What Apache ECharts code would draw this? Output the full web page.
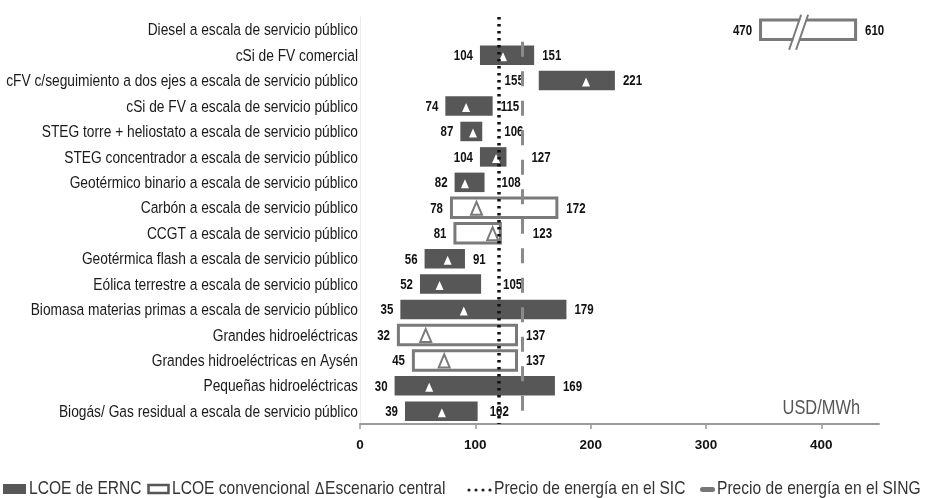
<!DOCTYPE html>
<html>
<head>
<meta charset="utf-8">
<script src="https://cdn.jsdelivr.net/npm/echarts@6/dist/echarts.min.js"></script>
<style>
html,body{margin:0;padding:0;background:#fff;}
#chart{width:929px;height:498px;}
</style>
</head>
<body>
<div id="chart"></div>
<script>
// ---------------- DATA ----------------
const categories = [
  'Diesel a escala de servicio público',
  'cSi de FV comercial',
  'cFV c/seguimiento a dos ejes a escala de servicio público',
  'cSi de FV a escala de servicio público',
  'STEG torre + heliostato a escala de servicio público',
  'STEG concentrador a escala de servicio público',
  'Geotérmico binario a escala de servicio público',
  'Carbón a escala de servicio público',
  'CCGT a escala de servicio público',
  'Geotérmica flash a escala de servicio público',
  'Eólica terrestre a escala de servicio público',
  'Biomasa materias primas a escala de servicio público',
  'Grandes hidroeléctricas',
  'Grandes hidroeléctricas en Aysén',
  'Pequeñas hidroeléctricas',
  'Biogás/ Gas residual a escala de servicio público'
];
const lowValues     = [470, 104, 155, 74, 87, 104, 82, 78, 81, 56, 52, 35, 32, 45, 30, 39];
const highValues    = [610, 151, 221, 115, 106, 127, 108, 172, 123, 91, 105, 179, 137, 137, 169, 102];
const centralValues = [null, 124, 196, 92, 98, 118, 91, 101, 115, 76, 69, 90, 57, 73, 60, 71];
// 'ernc' = LCOE de ERNC (filled), 'conv' = LCOE convencional (hollow)
const kinds = ['conv','ernc','ernc','ernc','ernc','ernc','ernc','conv','conv','ernc','ernc','ernc','conv','conv','ernc','ernc'];
const sicPrice = 120;
const singPrice = 141;
const xTickValues = [0, 100, 200, 300, 400];
const xMax = 450;
// Diesel bar (470–610) is drawn compressed with a break mark, between these axis positions
const brokenBarIndex = 0;
const brokenBarDraw = [346, 431];
const brokenBarBreakAt = 379;
const unitLabel = 'USD/MWh';
const legendLabels = ['LCOE de ERNC', 'LCOE convencional', 'Escenario central', 'Precio de energía en el SIC', 'Precio de energía en el SING'];

// ---------------- STYLE / LAYOUT ----------------
const SANS = '"Liberation Sans",Arial,sans-serif';
const NARROW_SCALE = 0.82;   // emulates a condensed (narrow) face
const FILL_DARK = '#575757';
const STROKE_GRAY = '#7a7a7a';
const LABEL_FONT = 'bold 14px ' + SANS;
const CAT_FONT = '16.8px ' + SANS;
const rightLabelShift = [0,0,0,0,14,17,9,0,23,0,14,0,0,0,0,4];
const leftLabelShift  = [0,0,8,0,0,0,0,0,0,0,0,0,0,0,0,0];

const barData = categories.map((c, i) => {
  const lo = i === brokenBarIndex ? brokenBarDraw[0] : lowValues[i];
  const hi = i === brokenBarIndex ? brokenBarDraw[1] : highValues[i];
  return [i, lo, hi, centralValues[i] == null ? '-' : centralValues[i]];
});

function narrowText(x, y, text, font, fill, align) {
  return {
    type: 'text', x: x, y: y, scaleX: NARROW_SCALE, scaleY: 1,
    style: { text: text, font: font, fill: fill, align: align, verticalAlign: 'middle' }
  };
}

function renderItem(params, api) {
  const i = params.dataIndex;
  const idx = api.value(0);
  const pLo = api.coord([api.value(1), idx]);
  const pHi = api.coord([api.value(2), idx]);
  const p0 = api.coord([0, idx]);
  const cy = pLo[1];
  const h = 19.5;
  const children = [];
  const conv = kinds[i] === 'conv';
  // category label (axis label drawn condensed)
  children.push(narrowText(p0[0] - 2, cy + 1, categories[i], CAT_FONT, '#1a1a1a', 'right'));
  if (conv) {
    children.push({
      type: 'rect',
      shape: { x: pLo[0] + 1.5, y: cy - h / 2, width: pHi[0] - pLo[0] - 3, height: h },
      style: { fill: '#fff', stroke: STROKE_GRAY, lineWidth: 3 }
    });
  } else {
    children.push({
      type: 'rect',
      shape: { x: pLo[0], y: cy - h / 2, width: pHi[0] - pLo[0], height: h },
      style: { fill: FILL_DARK }
    });
  }
  const c = centralValues[i];
  if (c != null) {
    const pc = api.coord([c, idx]);
    if (conv) {
      children.push({
        type: 'polygon',
        shape: { points: [[pc[0], cy - 6], [pc[0] - 5.5, cy + 7], [pc[0] + 5.5, cy + 7]] },
        style: { fill: '#fff', stroke: STROKE_GRAY, lineWidth: 2 }
      });
    } else {
      children.push({
        type: 'polygon',
        shape: { points: [[pc[0], cy - 3], [pc[0] - 4, cy + 6], [pc[0] + 4, cy + 6]] },
        style: { fill: '#fff' }
      });
    }
  }
  if (i === brokenBarIndex) {
    const pb = api.coord([brokenBarBreakAt, idx]);
    const top = cy - 15, bot = cy + 20;
    const sl = 6;
    children.push({
      type: 'polygon',
      shape: { points: [[pb[0] + sl - 1, top], [pb[0] + sl + 5, top], [pb[0] - sl + 5, bot], [pb[0] - sl - 1, bot]] },
      style: { fill: '#fff' }
    });
    children.push({ type: 'line', shape: { x1: pb[0] + sl - 2, y1: top, x2: pb[0] - sl - 2, y2: bot }, style: { stroke: STROKE_GRAY, lineWidth: 2 } });
    children.push({ type: 'line', shape: { x1: pb[0] + sl + 5, y1: top, x2: pb[0] - sl + 5, y2: bot }, style: { stroke: STROKE_GRAY, lineWidth: 2 } });
  }
  children.push(narrowText(pLo[0] - 7 - leftLabelShift[i], cy + 1, String(lowValues[i]), LABEL_FONT, '#111', 'right'));
  children.push(narrowText(pHi[0] + 8 + rightLabelShift[i], cy + 1, String(highValues[i]), LABEL_FONT, '#111', 'left'));
  return { type: 'group', children };
}

// legend drawn as graphic elements
const LEG_Y = 489;
const legFont = '19px ' + SANS;
function legText(x, text) {
  return { type: 'text', x: x, y: LEG_Y, scaleX: NARROW_SCALE, style: { text: text, font: legFont, fill: '#333', verticalAlign: 'middle' } };
}
const legendGraphic = [
  { type: 'rect', shape: { x: 3, y: LEG_Y - 5, width: 23, height: 10 }, style: { fill: FILL_DARK } },
  legText(29, legendLabels[0]),
  { type: 'rect', shape: { x: 148.5, y: LEG_Y - 4, width: 20, height: 8 }, style: { fill: '#fff', stroke: '#555', lineWidth: 2.5 } },
  legText(172, legendLabels[1]),
  { type: 'text', x: 315, y: LEG_Y, scaleX: NARROW_SCALE, style: { text: 'Δ', font: '17px ' + SANS, fill: '#333', verticalAlign: 'middle' } },
  legText(325, legendLabels[2]),
  { type: 'circle', shape: { cx: 469, cy: LEG_Y + 1, r: 1.6 }, style: { fill: '#222' } },
  { type: 'circle', shape: { cx: 476, cy: LEG_Y + 1, r: 1.6 }, style: { fill: '#222' } },
  { type: 'circle', shape: { cx: 483, cy: LEG_Y + 1, r: 1.6 }, style: { fill: '#222' } },
  { type: 'circle', shape: { cx: 490, cy: LEG_Y + 1, r: 1.6 }, style: { fill: '#222' } },
  legText(494, legendLabels[3]),
  { type: 'rect', shape: { x: 700, y: LEG_Y - 2, width: 15, height: 5, r: 2.5 }, style: { fill: '#777' } },
  legText(717, legendLabels[4]),
  { type: 'text', x: 860, y: 408, scaleX: NARROW_SCALE, style: { text: unitLabel, font: '20px ' + SANS, fill: '#555', align: 'right', verticalAlign: 'middle' } }
];

const chart = echarts.init(document.getElementById('chart'), null, { renderer: 'canvas' });
chart.setOption({
  animation: false,
  backgroundColor: '#fff',
  grid: { left: 360, right: 50, top: 17, bottom: 74, containLabel: false, outerBoundsMode: 'none' },
  xAxis: {
    type: 'value', min: 0, max: xMax, interval: 100,
    splitLine: { show: false },
    axisLine: { show: true, lineStyle: { color: '#9a9a9a', width: 2 } },
    axisTick: { show: true, length: 5, lineStyle: { color: '#9a9a9a', width: 1.5 }, customValues: xTickValues },
    axisLabel: { customValues: xTickValues, margin: 14, color: '#111', fontWeight: 'bold', fontSize: 13.5, fontFamily: SANS }
  },
  yAxis: {
    type: 'category', data: categories, inverse: true,
    axisLine: { show: true, lineStyle: { color: '#ececec', width: 1 } },
    axisTick: { show: false },
    axisLabel: { show: false }
  },
  series: [
    {
      type: 'custom', name: 'LCOE', data: barData, renderItem: renderItem,
      encode: { x: [1, 2], y: 0 }, clip: false, z: 2
    },
    {
      type: 'scatter', name: 'precios', data: [], z: 5,
      markLine: {
        silent: true, symbol: 'none', label: { show: false }, animation: false,
        data: [
          { xAxis: sicPrice, lineStyle: { color: '#111', width: 3.5, type: [2.5, 4.5], cap: 'butt' } },
          [
            { coord: [singPrice, 0], lineStyle: { color: '#8a8a8a', width: 3, type: [15, 14.5], dashOffset: 17.5 } },
            { coord: [singPrice, categories.length - 1] }
          ]
        ]
      }
    }
  ],
  graphic: legendGraphic
});
</script>
</body>
</html>
